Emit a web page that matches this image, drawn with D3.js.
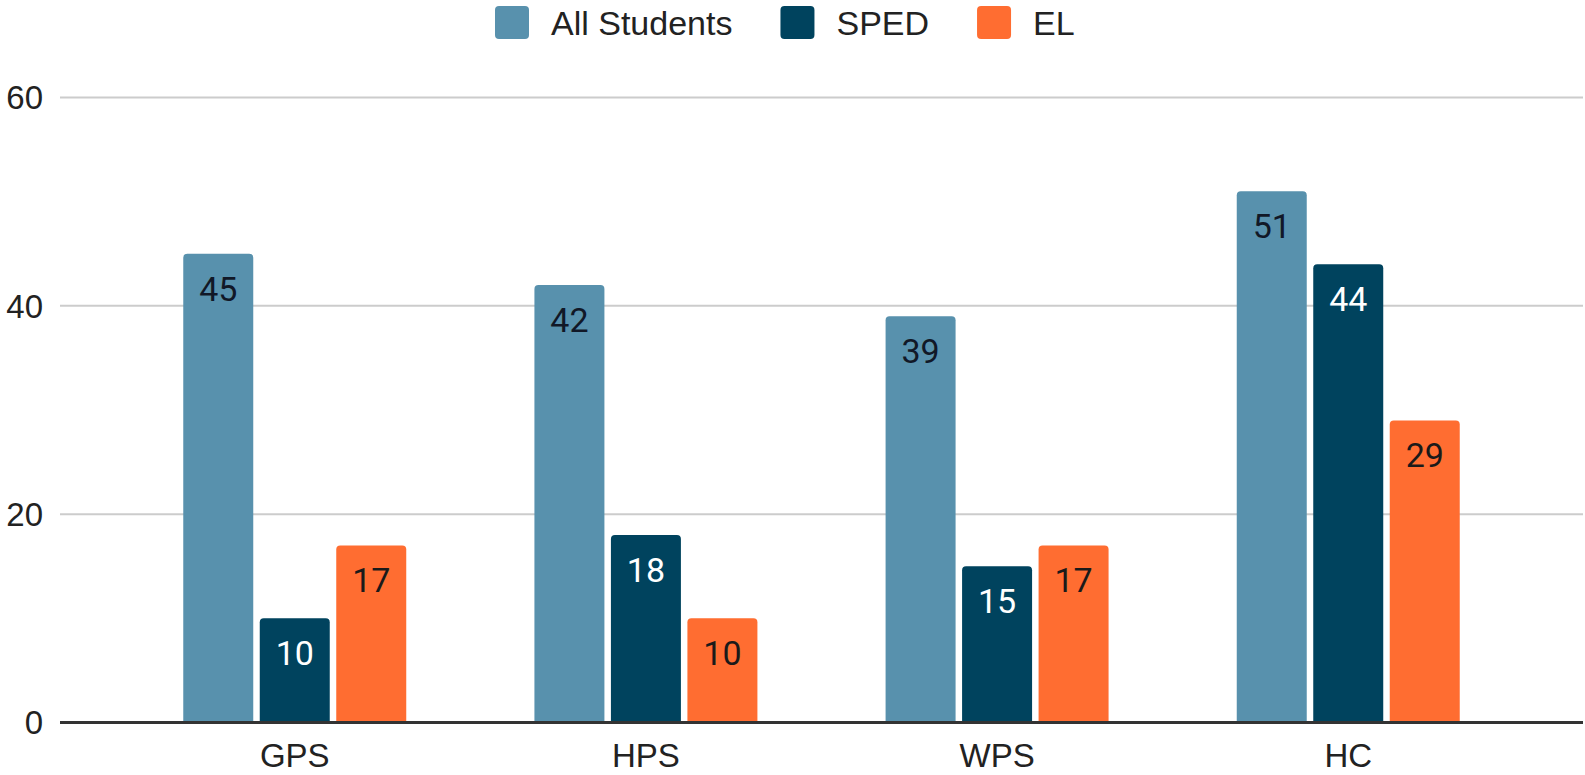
<!DOCTYPE html>
<html>
<head>
<meta charset="utf-8">
<script src="https://cdn.jsdelivr.net/npm/d3@7"></script>
<style>
  html, body { margin: 0; padding: 0; background: #ffffff; }
  svg { display: block; }
</style>
</head>
<body>
<svg id="chart" width="1585" height="775"></svg>
<script>
const categories = ["GPS", "HPS", "WPS", "HC"];
const seriesNames = ["All Students", "SPED", "EL"];
const allStudents = [45, 42, 39, 51];
const sped = [10, 18, 15, 44];
const el = [17, 10, 17, 29];
const yTicks = [0, 20, 40, 60];

(function () {
const seriesValues = [allStudents, sped, el];
const colors = ["#5891ad", "#00435e", "#ff6d31"];
const labelColors = ["#111827", "#ffffff", "#1a1a1a"];

const svg = d3.select("#chart");
const plotLeft = 60, plotRight = 1583, plotTop = 97.5, plotBottom = 722.5;

const x0 = d3.scaleBand().domain(categories).range([plotLeft, plotRight])
  .paddingInner(0.365).paddingOuter(0.351);
const x1 = d3.scaleBand().domain(seriesNames).range([0, x0.bandwidth()])
  .paddingInner(0.085).paddingOuter(0);
const y = d3.scaleLinear().domain([0, 60]).range([plotBottom, plotTop]);

// gridlines
svg.append("g").selectAll("line").data(yTicks.filter(d => d !== 0)).join("line")
  .attr("x1", plotLeft).attr("x2", plotRight)
  .attr("y1", d => y(d)).attr("y2", d => y(d))
  .attr("stroke", "#cccccc").attr("stroke-width", 2);

// y tick labels
svg.append("g").selectAll("text").data(yTicks).join("text")
  .attr("x", 43).attr("y", d => y(d))
  .attr("dy", "0.36em")
  .attr("text-anchor", "end")
  .attr("font-family", "'Liberation Sans', Arial, sans-serif")
  .attr("font-size", 33)
  .attr("fill", "#222222")
  .text(d => d);

// bars
const rows = [];
categories.forEach((c, i) => {
  seriesNames.forEach((s, j) => {
    rows.push({ cat: c, series: s, j: j, value: seriesValues[j][i] });
  });
});

function topRounded(x, yTop, w, h, r) {
  r = Math.min(r, w / 2, h);
  return `M${x},${yTop + h}V${yTop + r}Q${x},${yTop} ${x + r},${yTop}` +
    `H${x + w - r}Q${x + w},${yTop} ${x + w},${yTop + r}V${yTop + h}Z`;
}

svg.append("g").selectAll("path").data(rows).join("path")
  .attr("d", d => {
    const bx = x0(d.cat) + x1(d.series);
    const by = y(d.value);
    return topRounded(bx, by, x1.bandwidth(), y(0) - by, 4);
  })
  .attr("fill", d => colors[d.j]);

// data labels
svg.append("g").selectAll("text").data(rows).join("text")
  .attr("x", d => x0(d.cat) + x1(d.series) + x1.bandwidth() / 2)
  .attr("y", d => y(d.value) + 47)
  .attr("text-anchor", "middle")
  .attr("font-family", "Roboto, sans-serif")
  .attr("font-size", 34)
  .attr("fill", d => labelColors[d.j])
  .text(d => d.value);

// baseline axis
svg.append("line")
  .attr("x1", plotLeft).attr("x2", plotRight)
  .attr("y1", y(0)).attr("y2", y(0))
  .attr("stroke", "#333333").attr("stroke-width", 3);

// x labels
svg.append("g").selectAll("text").data(categories).join("text")
  .attr("x", d => x0(d) + x0.bandwidth() / 2)
  .attr("y", 767)
  .attr("text-anchor", "middle")
  .attr("font-family", "'Liberation Sans', Arial, sans-serif")
  .attr("font-size", 33)
  .attr("fill", "#222222")
  .text(d => d);

// legend
const legend = svg.append("g");
let lx = 495;
seriesNames.forEach((s, j) => {
  legend.append("rect")
    .attr("x", lx).attr("y", 6)
    .attr("width", 34).attr("height", 33)
    .attr("rx", 4).attr("ry", 4)
    .attr("fill", colors[j]);
  const t = legend.append("text")
    .attr("x", lx + 56).attr("y", 34.5)
    .attr("font-family", "'Liberation Sans', Arial, sans-serif")
    .attr("font-size", 34)
    .attr("fill", "#222222")
    .text(s);
  const w = t.node().getComputedTextLength();
  lx = lx + 56 + w + 48;
});
})();
</script>
</body>
</html>
